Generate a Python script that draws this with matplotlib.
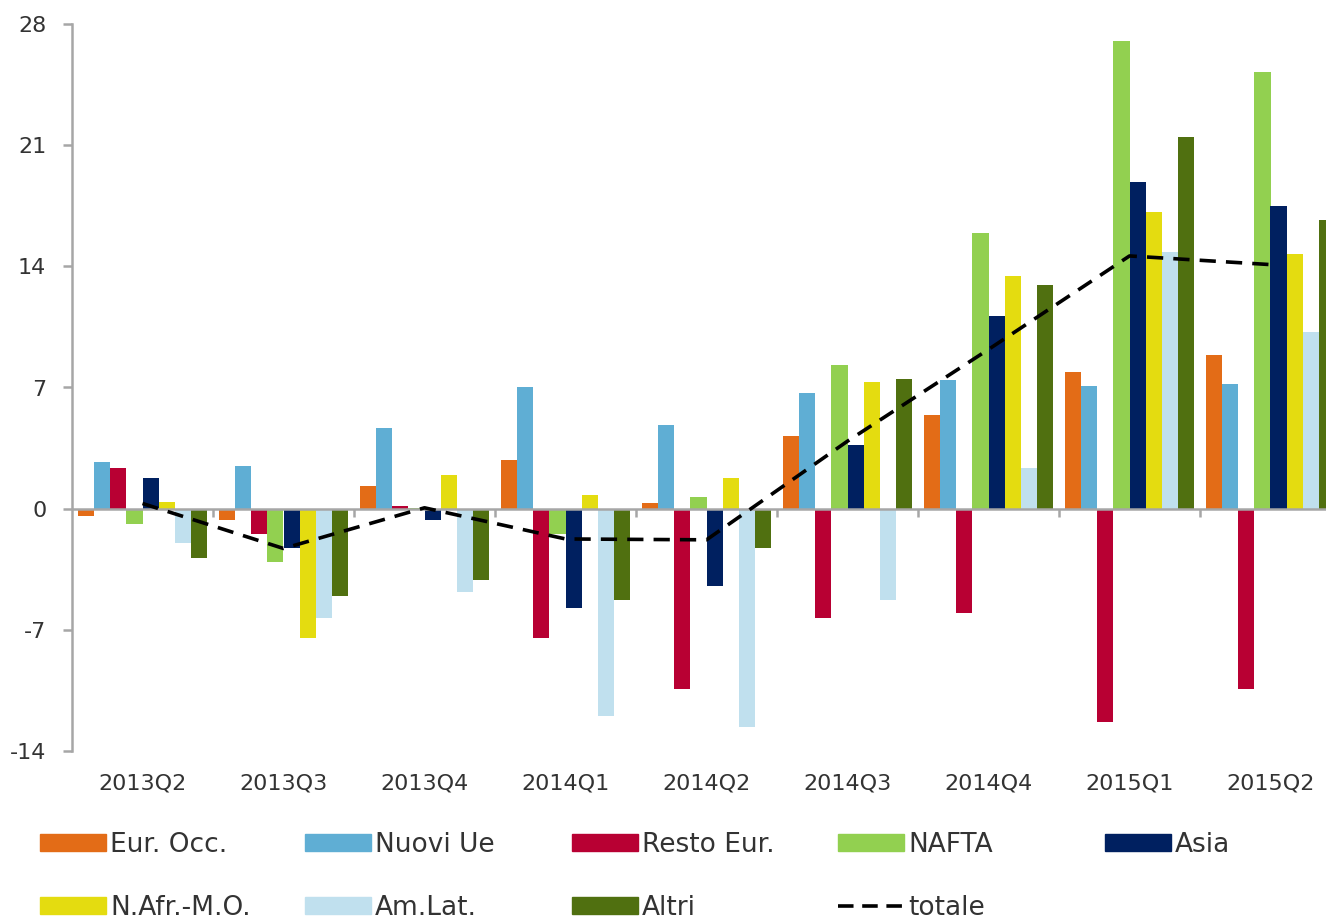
import matplotlib.pyplot as plt
from matplotlib.patches import Patch
from matplotlib.lines import Line2D
import numpy as np

plt.rcParams['font.family'] = ['DejaVu Sans']
plt.rcParams['axes.unicode_minus'] = False

quarters = ['2013Q2', '2013Q3', '2013Q4', '2014Q1', '2014Q2',
            '2014Q3', '2014Q4', '2015Q1', '2015Q2']

series = ['Eur. Occ.', 'Nuovi Ue', 'Resto Eur.', 'NAFTA', 'Asia',
          'N.Afr.-M.O.', 'Am.Lat.', 'Altri']
colors = ['#E36C17', '#5FAED4', '#B80033', '#92D050', '#002060',
          '#E4DC10', '#C0E0EE', '#507010']

eur_occ = [-0.4, -0.65, 1.3, 2.8, 0.35, 4.2, 5.4, 7.9, 8.9]
nuovi_ue = [2.7, 2.45, 4.65, 7.05, 4.85, 6.7, 7.45, 7.1, 7.2]
resto_eur = [2.35, -1.45, 0.15, -7.45, -10.4, -6.3, -6.05, -12.35, -10.4]
nafta = [-0.9, -3.1, 0.05, -1.45, 0.7, 8.3, 15.9, 27.0, 25.25]
asia = [1.75, -2.25, -0.65, -5.75, -4.45, 3.7, 11.15, 18.9, 17.5]
nafr_mo = [0.4, -7.45, 1.95, 0.8, 1.75, 7.3, 13.45, 17.15, 14.7]
am_lat = [-2.0, -6.3, -4.8, -11.95, -12.6, -5.25, 2.35, 14.85, 10.2]
altri = [-2.85, -5.05, -4.1, -5.3, -2.25, 7.5, 12.9, 21.5, 16.7]
totale = [0.3, -2.3, 0.05, -1.75, -1.8, 3.9, 9.2, 14.6, 14.1]

values = [eur_occ, nuovi_ue, resto_eur, nafta, asia, nafr_mo, am_lat, altri]

fig = plt.figure(figsize=(13.26, 9.22), dpi=100)
ax = fig.add_axes([72 / 1326, 1 - 751 / 922, 1 - 72 / 1326, (751 - 24) / 922])

x = np.arange(len(quarters))
w = 0.115
for k, (vals, c) in enumerate(zip(values, colors)):
    ax.bar(x + (k - 3.5) * w, vals, w, color=c, linewidth=0, zorder=2)

ax.plot(x, totale, color='black', lw=2.6, dashes=(4.5, 2.8), zorder=4)

grey = '#A6A6A6'
ax.axhline(0, color=grey, lw=1.8, zorder=3)
ax.vlines(x[:-1] + 0.5, -0.5, 0, color=grey, lw=1.8, zorder=3)

ax.set_xlim(-0.5, (1326 - 72) / 141 - 0.5)
ax.set_ylim(-14, 28)
ax.set_yticks(np.arange(-14, 29, 7))
ax.set_xticks(x)
ax.set_xticklabels(quarters)

for s in ['top', 'right', 'bottom']:
    ax.spines[s].set_visible(False)
ax.spines['left'].set_color(grey)
ax.spines['left'].set_linewidth(1.8)

ax.tick_params(axis='x', length=0, pad=16, labelsize=16, labelcolor='#333333')
ax.tick_params(axis='y', length=6.5, width=1.8, color=grey, pad=12,
               labelsize=16, labelcolor='#333333')

handles = [Patch(color=c) for c in colors]
handles.append(Line2D([], [], color='black', lw=2.6, dashes=(4.3, 2.4)))
labels = series + ['totale']

cols = [[0, 5], [1, 6], [2, 7], [3, 8], [4]]
col_x = [40, 305, 572, 838, 1105]
for idx, cx in zip(cols, col_x):
    fig.legend([handles[i] for i in idx], [labels[i] for i in idx],
               loc='upper left', bbox_to_anchor=(cx / 1326, 1 - 832 / 922),
               frameon=False, borderpad=0, borderaxespad=0,
               fontsize=19, handlelength=2.5, handleheight=0.6,
               handletextpad=0.15, labelspacing=1.4,
               labelcolor='#333333')

fig.savefig('out.png', dpi=100)
